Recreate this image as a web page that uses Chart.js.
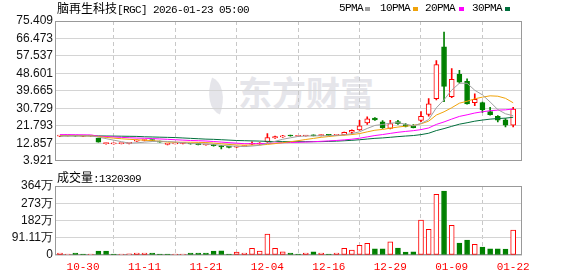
<!DOCTYPE html>
<html>
<head>
<meta charset="utf-8">
<script src="https://cdn.jsdelivr.net/npm/chart.js@4.4.1/dist/chart.umd.min.js"></script>
<style>
body { margin: 0; background: #fff; width: 578px; height: 276px; position: relative; overflow: hidden; }
.abs { position: absolute; white-space: nowrap; line-height: 12px; }
.mono { font-family: "Liberation Mono", monospace; font-size: 11px; letter-spacing: -0.6px; }
.cjk { font-family: "Noto Sans CJK SC", sans-serif; font-size: 12px; }
.sq { position: absolute; width: 5px; height: 4px; }
#watermark { left: 238px; top: 75px; font: bold 34px/34px "Noto Sans CJK SC", sans-serif; color: #e5e5ea; }
#logo { position: absolute; left: 206px; top: 80px; width: 20px; height: 32px; background: #e5e5ea; border-radius: 0 100% 0 100%; transform: rotate(20deg); }
canvas { position: absolute; left: 0; }
</style>
</head>
<body>
<div id="logo"></div>
<div id="watermark" class="abs">东方财富</div>
<canvas id="priceChart" width="578" height="170" style="top:0"></canvas>
<canvas id="volumeChart" width="578" height="106" style="top:170px"></canvas>

<div class="abs" style="left:57px; top:2px"><span class="cjk">脑再生科技</span><span class="mono">[RGC] 2026-01-23 05:00</span></div>
<div class="abs mono" style="left:339px; top:2px">5PMA</div><div class="sq" style="left:365px; top:7px; background:#a0a0a0"></div>
<div class="abs mono" style="left:380px; top:2px">10PMA</div><div class="sq" style="left:413px; top:7px; background:#f0a30a"></div>
<div class="abs mono" style="left:425px; top:2px">20PMA</div><div class="sq" style="left:459px; top:7px; background:#ff00ff"></div>
<div class="abs mono" style="left:472px; top:2px">30PMA</div><div class="sq" style="left:505px; top:7px; background:#006f3c"></div>
<div class="abs" style="left:57px; top:171px"><span class="cjk">成交量</span><span class="mono">:1320309</span></div>

<script>
const dates = ['10-27', '10-28', '10-29', '10-30', '10-31', '11-03', '11-04', '11-05', '11-06', '11-07',
    '11-10', '11-11', '11-12', '11-13', '11-14', '11-17', '11-18', '11-19', '11-20', '11-21',
    '11-24', '11-25', '11-26', '11-28', '12-01', '12-02', '12-03', '12-04', '12-05', '12-08',
    '12-09', '12-10', '12-11', '12-12', '12-15', '12-16', '12-17', '12-18', '12-19', '12-22',
    '12-23', '12-24', '12-26', '12-29', '12-30', '12-31', '01-02', '01-05', '01-06', '01-07',
    '01-08', '01-09', '01-12', '01-13', '01-14', '01-15', '01-16', '01-20', '01-21', '01-22'];
const tickDays = ['10-30', '11-11', '11-21', '12-04', '12-16', '12-29', '01-09', '01-22'];

const opens = [16.5, 16.7, 16.9, 16.5, 16.6, 15.4, 12.7, 12.6, 12.7, 12.8,
    14.0, 14.3, 14.6, 13.8, 12.3, 12.6, 12.8, 12.7, 12.4, 12.0,
    12.2, 11.7, 11.1, 10.9, 11.2, 12.4, 12.5, 13.6, 15.6, 16.1,
    16.9, 16.4, 16.6, 17.0, 16.8, 17.1, 16.9, 17.2, 18.5, 19.7,
    23.3, 25.8, 23.8, 20.5, 24.0, 22.4, 21.8, 24.6, 27.6, 35.7,
    62.2, 36.7, 48.1, 44.5, 33.7, 33.7, 29.1, 26.6, 24.9, 22.2];
const highs = [16.9, 16.9, 17.0, 16.8, 16.9, 15.5, 13.1, 13.0, 13.0, 13.1,
    14.6, 14.7, 14.7, 14.0, 12.7, 13.0, 13.0, 12.9, 12.6, 12.3,
    12.3, 11.8, 11.2, 11.4, 11.6, 13.6, 13.2, 17.8, 16.5, 16.9,
    17.1, 16.9, 17.0, 17.2, 17.3, 17.2, 17.3, 18.6, 19.7, 24.6,
    26.4, 26.0, 24.5, 24.6, 24.6, 23.0, 22.5, 29.1, 35.7, 55.2,
    69.8, 51.1, 50.2, 45.8, 38.2, 34.0, 31.2, 27.0, 25.5, 31.2];
const lows = [16.3, 16.6, 16.5, 16.4, 16.5, 13.4, 12.4, 12.4, 12.5, 12.6,
    13.8, 14.1, 14.2, 13.4, 12.0, 12.5, 12.6, 12.4, 12.1, 11.9,
    11.4, 10.0, 10.5, 10.8, 11.1, 12.2, 12.3, 13.3, 15.4, 15.9,
    16.5, 16.3, 16.5, 16.6, 16.7, 16.8, 16.8, 17.1, 17.6, 19.5,
    22.5, 24.6, 20.5, 20.2, 22.5, 21.3, 20.7, 23.9, 26.8, 35.0,
    34.2, 36.2, 43.6, 32.9, 32.1, 28.7, 27.2, 23.8, 21.3, 21.3];
const closes = [16.7, 16.8, 16.6, 16.55, 16.8, 13.5, 12.8, 12.7, 12.8, 12.9,
    14.4, 14.5, 14.3, 13.5, 12.4, 12.8, 12.9, 12.5, 12.2, 12.1,
    11.6, 11.0, 10.8, 11.2, 11.4, 12.9, 13.0, 15.8, 16.3, 16.7,
    16.6, 16.5, 16.8, 16.7, 17.0, 16.9, 17.1, 18.5, 19.5, 21.8,
    25.4, 24.8, 20.9, 23.0, 22.9, 21.5, 20.9, 26.6, 33.1, 53.1,
    42.0, 45.6, 44.1, 33.0, 35.3, 30.1, 27.5, 24.7, 22.2, 30.4];

// volume in 万 shares
const volumes = [10.6, 5.3, 10.4, 5.5, 5.2, 21.3, 20.8, 5.4, 5.3, 5.6,
    10.5, 10.7, 10.6, 5.3, 5.4, 5.2, 5.5, 10.4, 10.6, 10.8,
    21.0, 21.4, 5.3, 16.0, 10.6, 35.2, 21.1, 111.0, 35.0, 16.2,
    10.6, 5.3, 10.5, 16.1, 10.7, 5.4, 10.6, 35.1, 26.0, 51.0,
    62.0, 32.0, 32.3, 69.0, 37.0, 16.0, 16.3, 185.0, 135.0, 320.0,
    338.0, 157.0, 63.0, 79.0, 56.0, 42.0, 32.0, 32.2, 31.8, 132.03];

const ma5 = [16.6, 16.7, 16.7, 16.7, 16.69, 16.05, 15.25, 14.47, 13.72, 12.94,
    13.12, 13.46, 13.78, 13.92, 13.82, 13.5, 13.18, 12.82, 12.56, 12.5,
    12.26, 11.88, 11.54, 11.34, 11.2, 11.46, 11.86, 12.86, 13.88, 14.94,
    15.68, 16.38, 16.58, 16.66, 16.72, 16.78, 16.9, 17.24, 17.8, 18.76,
    20.46, 22.0, 22.48, 23.18, 23.4, 22.62, 21.84, 22.98, 25.0, 31.04,
    35.14, 40.08, 43.58, 43.56, 40.0, 37.62, 34.0, 30.12, 27.96, 26.98];
const ma10 = [16.8, 16.8, 16.8, 16.7, 16.7, 16.3, 15.9, 15.5, 15.2, 14.92,
    14.69, 14.46, 14.23, 13.92, 13.48, 13.41, 13.42, 13.4, 13.34, 13.26,
    12.98, 12.63, 12.28, 12.05, 11.95, 11.96, 11.97, 12.3, 12.71, 13.17,
    13.67, 14.22, 14.82, 15.37, 15.93, 16.33, 16.74, 17.01, 17.33, 17.84,
    18.72, 19.55, 19.96, 20.59, 21.18, 21.64, 22.02, 22.83, 24.19, 27.32,
    28.98, 31.06, 33.38, 34.38, 35.62, 36.48, 37.14, 36.95, 35.86, 33.59];
const ma20 = [17.3, 17.3, 17.25, 17.2, 17.15, 16.5, 16.3, 16.1, 15.9, 15.7,
    15.55, 15.45, 15.3, 15.1, 14.9, 14.7, 14.5, 14.3, 14.2, 14.04,
    13.78, 13.49, 13.2, 12.94, 12.67, 12.64, 12.65, 12.8, 12.98, 13.17,
    13.28, 13.38, 13.5, 13.66, 13.89, 14.1, 14.31, 14.61, 14.97, 15.46,
    16.15, 16.84, 17.34, 17.93, 18.51, 18.94, 19.33, 19.87, 20.71, 22.53,
    23.8, 25.26, 26.62, 27.44, 28.35, 29.01, 29.53, 29.84, 29.98, 30.41];
const ma30 = [16.7, 16.7, 16.7, 16.7, 16.7, 16.65, 16.6, 16.55, 16.5, 16.45,
    16.4, 16.2, 16.1, 16.0, 15.9, 15.8, 15.6, 15.4, 15.2, 15.0,
    14.9, 14.7, 14.5, 14.3, 14.2, 14.1, 14.0, 13.85, 13.75, 13.72,
    13.71, 13.7, 13.71, 13.71, 13.72, 13.83, 13.98, 14.17, 14.39, 14.69,
    15.06, 15.4, 15.62, 15.94, 16.29, 16.58, 16.84, 17.31, 18.01, 19.38,
    20.39, 21.54, 22.65, 23.38, 24.18, 24.75, 25.23, 25.53, 25.73, 26.18];

const priceTicks = [3.921, 12.857, 21.793, 30.729, 39.665, 48.601, 57.537, 66.473, 75.409];
const volumeTicks = [0, 91.11, 182.22, 273.33, 364.44];

const RED = '#ff0000';
const GREEN = '#008000';
const xMin = -0.65, xMax = 60.15;
const tickIdx = tickDays.map(d => dates.indexOf(d));

const candleUp = closes.map((c, i) => c >= opens[i]);
const volumeUp = closes.map((c, i) => i === 0 ? c >= opens[0] : c >= closes[i - 1]);

function pts(arr) {
    return arr.map((v, i) => ({ x: i, y: v }));
}

function maLine(arr, color) {
    return { type: 'line', data: pts(arr), borderColor: color, borderWidth: 1, pointRadius: 0, tension: 0 };
}

// gray frame round the plot area
const framePlugin = {
    id: 'frame',
    beforeDatasetsDraw(chart) {
        const { ctx, chartArea: a } = chart;
        ctx.save();
        ctx.strokeStyle = '#999';
        ctx.lineWidth = 1;
        ctx.strokeRect(Math.round(a.left) + 0.5, Math.round(a.top) + 0.5, Math.round(a.width) - 1, Math.round(a.height) - 1);
        ctx.restore();
    }
};

function xScale(showLabels) {
    return {
        type: 'linear', min: xMin, max: xMax, offset: false,
        afterBuildTicks: s => { s.ticks = tickIdx.map(v => ({ value: v })); },
        afterFit: s => { s.height = showLabels ? 21 : 0; },
        ticks: {
            display: showLabels, autoSkip: false, maxRotation: 0, padding: 5,
            color: RED, font: { family: 'Liberation Mono', size: 11 },
            callback: v => dates[v]
        },
        grid: { color: '#c8c8c8', drawTicks: false },
        border: { display: false, dash: [4, 3] }
    };
}

const common = {
    responsive: false,
    animation: false,
    devicePixelRatio: 1,
    events: [],
    plugins: { legend: { display: false }, tooltip: { enabled: false } }
};

new Chart(document.getElementById('priceChart'), {
    data: {
        datasets: [
            maLine(ma5, '#a0a0a0'),
            maLine(ma10, '#f0a30a'),
            maLine(ma20, '#ff00ff'),
            maLine(ma30, '#006f3c'),
            {
                type: 'bar',
                data: opens.map((o, i) => ({ x: i, y: [o, closes[i]] })),
                backgroundColor: candleUp.map(u => u ? '#ffffff' : GREEN),
                borderColor: candleUp.map(u => u ? RED : GREEN),
                borderWidth: 1, borderSkipped: false, barThickness: 5, minBarLength: 1, grouped: false
            },
            {
                type: 'bar',
                data: lows.map((l, i) => ({ x: i, y: [l, highs[i]] })),
                backgroundColor: candleUp.map(u => u ? RED : GREEN),
                borderWidth: 0, barThickness: 1, grouped: false
            }
        ]
    },
    options: {
        ...common,
        layout: { padding: { top: 21, right: 56, bottom: 5, left: 0 } },
        scales: {
            x: xScale(false),
            y: {
                type: 'linear', min: priceTicks[0], max: priceTicks[priceTicks.length - 1],
                afterBuildTicks: s => { s.ticks = priceTicks.map(v => ({ value: v })); },
                afterFit: s => { s.width = 55; },
                ticks: {
                    autoSkip: false, padding: 2, color: '#111',
                    font: { family: 'Liberation Sans', size: 12 },
                    callback: v => Number(v).toFixed(3)
                },
                grid: { color: '#d4d4d4', drawTicks: false },
                border: { display: false }
            }
        }
    },
    plugins: [framePlugin]
});

new Chart(document.getElementById('volumeChart'), {
    data: {
        datasets: [{
            type: 'bar',
            data: pts(volumes),
            backgroundColor: volumeUp.map(u => u ? '#ffffff' : GREEN),
            borderColor: volumeUp.map(u => u ? RED : GREEN),
            borderWidth: 1, borderSkipped: false, barThickness: 5, minBarLength: 1, grouped: false
        }]
    },
    options: {
        ...common,
        layout: { padding: { top: 16, right: 56, bottom: 0, left: 0 } },
        scales: {
            x: xScale(true),
            y: {
                type: 'linear', min: 0, max: volumeTicks[volumeTicks.length - 1],
                afterBuildTicks: s => { s.ticks = volumeTicks.map(v => ({ value: v })); },
                afterFit: s => { s.width = 55; },
                ticks: {
                    autoSkip: false, padding: 2, color: '#111',
                    font: { family: 'Liberation Sans', size: 12 },
                    callback: v => v === 0 ? '0' : (v >= 100 ? Math.round(v) + '万' : v.toFixed(2) + '万')
                },
                grid: { color: '#d4d4d4', drawTicks: false },
                border: { display: false }
            }
        }
    },
    plugins: [framePlugin]
});
</script>
</body>
</html>
